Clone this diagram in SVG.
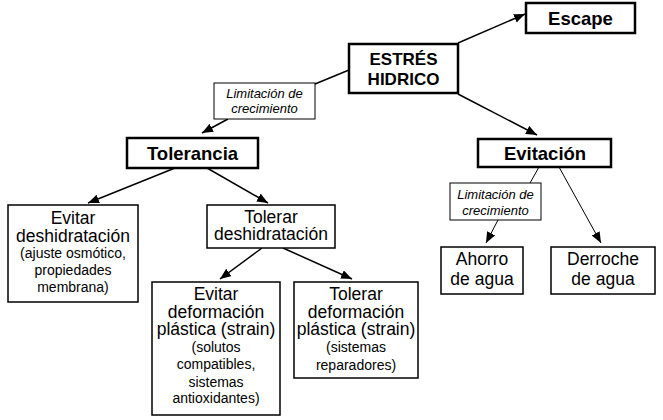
<svg xmlns="http://www.w3.org/2000/svg" width="663" height="420" viewBox="0 0 663 420">
<defs>
<style>
text{font-family:"Liberation Sans",Arial,sans-serif;fill:#000;text-anchor:middle}
.main{fill:#fff;stroke:#000;stroke-width:2.5}
.box{fill:#fff;stroke:#000;stroke-width:1.5}
.lab{fill:#fff;stroke:#000;stroke-width:1}
.b{font-weight:bold;font-size:18.5px}
.b17{font-weight:bold;font-size:17px}
.n{font-size:17.5px}
.s{font-size:14px}
.i{font-style:italic;font-size:13px}
.c{stroke:#000;stroke-width:1.5;fill:none}
.t{stroke:#000;stroke-width:1;fill:none}
</style>
<marker id="ah" markerUnits="userSpaceOnUse" markerWidth="12" markerHeight="10" refX="11" refY="4.5" orient="auto">
<path d="M0,0 L11,4.5 L0,9 z" fill="#000"/>
</marker>
</defs>
<rect width="663" height="420" fill="#fff"/>
<g id="connectors">
<line class="c" x1="458" y1="43" x2="525" y2="14" marker-end="url(#ah)"/>
<line class="c" x1="349" y1="70" x2="315" y2="84"/>
<line class="c" x1="228" y1="119" x2="202" y2="133" marker-end="url(#ah)"/>
<line class="c" x1="458" y1="94" x2="537" y2="135" marker-end="url(#ah)"/>
<line class="c" x1="175" y1="168" x2="88" y2="203" marker-end="url(#ah)"/>
<line class="c" x1="207" y1="168" x2="268" y2="203" marker-end="url(#ah)"/>
<line class="c" x1="262" y1="248" x2="220" y2="279" marker-end="url(#ah)"/>
<line class="c" x1="283" y1="248" x2="352" y2="279" marker-end="url(#ah)"/>
<line class="t" x1="539" y1="167" x2="530" y2="183"/>
<line class="t" x1="498" y1="220" x2="486" y2="243" marker-end="url(#ah)"/>
<line class="t" x1="559" y1="167" x2="601" y2="243" marker-end="url(#ah)"/>
</g>
<g id="escape">
<rect class="main" x="526" y="3" width="109" height="30"/>
<text class="b" x="580.5" y="25">Escape</text>
</g>
<g id="estres">
<rect class="main" x="349" y="44" width="109" height="49"/>
<text class="b17" x="403.5" y="65">ESTRÉS</text>
<text class="b17" x="403.5" y="85">HIDRICO</text>
</g>
<g id="label-tolerancia">
<rect class="lab" x="214" y="83" width="101" height="36"/>
<text class="i" x="264.5" y="98">Limitación de</text>
<text class="i" x="264.5" y="113">crecimiento</text>
</g>
<g id="tolerancia">
<rect class="main" x="127" y="138" width="131" height="30"/>
<text class="b" x="192.5" y="160">Tolerancia</text>
</g>
<g id="evitacion">
<rect class="main" x="478" y="139" width="133" height="28"/>
<text class="b" x="545" y="160">Evitación</text>
</g>
<g id="evitar-deshidratacion">
<rect class="box" x="8" y="205" width="130" height="97"/>
<text class="n" x="73" y="224">Evitar</text>
<text class="n" x="73" y="242">deshidratación</text>
<text class="s" x="73" y="258">(ajuste osmótico,</text>
<text class="s" x="73" y="275">propiedades</text>
<text class="s" x="73" y="292">membrana)</text>
</g>
<g id="tolerar-deshidratacion">
<rect class="box" x="207" y="205" width="128" height="43"/>
<text class="n" x="271" y="223">Tolerar</text>
<text class="n" x="271" y="240">deshidratación</text>
</g>
<g id="evitar-deformacion">
<rect class="box" x="152" y="282" width="128" height="133"/>
<text class="n" x="216" y="300">Evitar</text>
<text class="n" x="216" y="318">deformación</text>
<text class="n" x="216" y="335">plástica (strain)</text>
<text class="s" x="216" y="352">(solutos</text>
<text class="s" x="216" y="369">compatibles,</text>
<text class="s" x="216" y="387">sistemas</text>
<text class="s" x="216" y="403">antioxidantes)</text>
</g>
<g id="tolerar-deformacion">
<rect class="box" x="294" y="282" width="124" height="96"/>
<text class="n" x="356" y="300">Tolerar</text>
<text class="n" x="356" y="318">deformación</text>
<text class="n" x="356" y="335">plástica (strain)</text>
<text class="s" x="356" y="352">(sistemas</text>
<text class="s" x="356" y="370">reparadores)</text>
</g>
<g id="label-evitacion">
<rect class="lab" x="450" y="183" width="91" height="37"/>
<text class="i" x="495.5" y="199">Limitación de</text>
<text class="i" x="495.5" y="215">crecimiento</text>
</g>
<g id="ahorro">
<rect class="box" x="441" y="247" width="82" height="47"/>
<text class="n" x="482" y="265">Ahorro</text>
<text class="n" x="482" y="285">de agua</text>
</g>
<g id="derroche">
<rect class="box" x="551" y="247" width="104" height="47"/>
<text class="n" x="603" y="265">Derroche</text>
<text class="n" x="603" y="285">de agua</text>
</g>
</svg>
